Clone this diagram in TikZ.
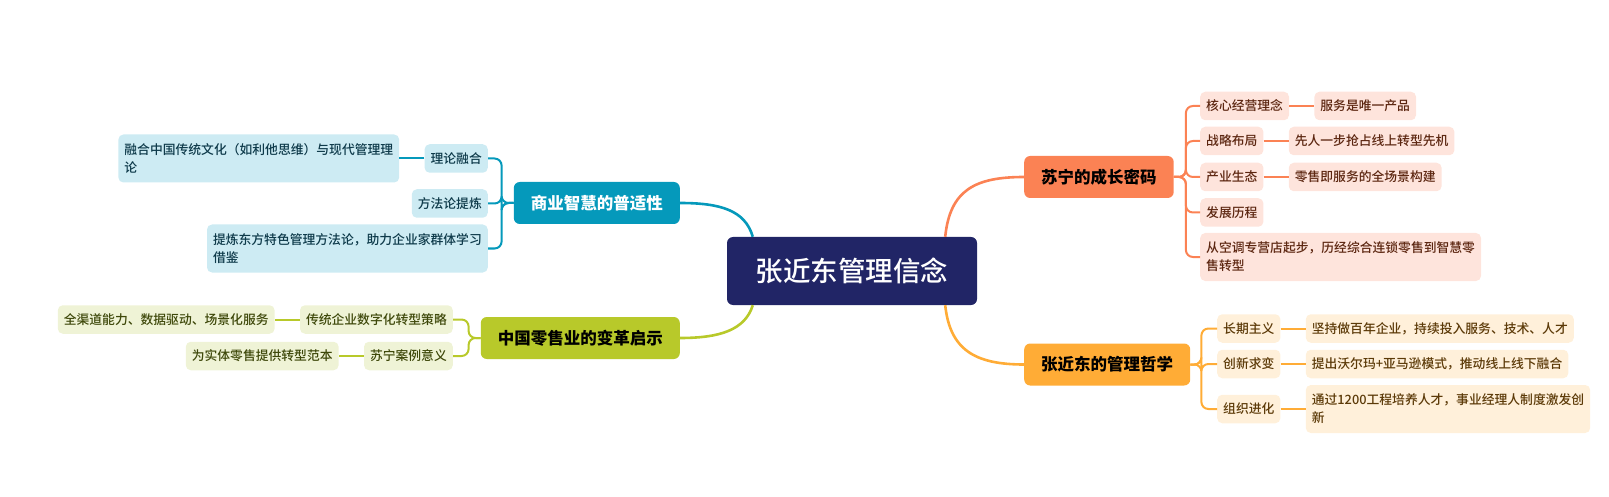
\documentclass[tikz,border=0pt]{standalone}
\usepackage{fontspec}
\setmainfont{Noto Sans CJK SC}
\newfontfamily\cjkmed{Noto Sans CJK SC Medium}
\usetikzlibrary{positioning,calc}
\definecolor{cnavy}{RGB}{33,37,102}
\definecolor{corange}{RGB}{251,130,84}
\definecolor{corangel}{RGB}{254,228,220}
\definecolor{corangetx}{RGB}{92,38,16}
\definecolor{cyellow}{RGB}{255,172,54}
\definecolor{cyellowl}{RGB}{255,240,218}
\definecolor{cyellowtx}{RGB}{92,58,8}
\definecolor{cblue}{RGB}{5,153,187}
\definecolor{cbluel}{RGB}{205,235,243}
\definecolor{cbluetx}{RGB}{14,58,74}
\definecolor{cgreen}{RGB}{184,201,42}
\definecolor{cgreenl}{RGB}{239,243,214}
\definecolor{cgreentx}{RGB}{62,72,10}
\begin{document}
\begin{tikzpicture}[x=1pt,y=-1pt,
  centerbox/.style={fill=cnavy, text=white, rounded corners=6pt, minimum width=250pt, minimum height=68pt, inner sep=0pt, font=\cjkmed\fontsize{27.5}{32}\selectfont},
  mainbox/.style={rounded corners=6pt, inner xsep=17pt, inner ysep=0pt, minimum height=42pt, font=\fontsize{16.5}{20}\selectfont\bfseries},
  childbox/.style={rounded corners=5pt, inner xsep=6pt, inner ysep=0pt, minimum height=28.5pt, font=\cjkmed\fontsize{12.8}{18}\selectfont, align=left},
  twoline/.style={minimum height=48pt},
  ochild/.style={childbox, fill=corangel, text=corangetx},
  ychild/.style={childbox, fill=cyellowl, text=cyellowtx},
  bchild/.style={childbox, fill=cbluel, text=cbluetx},
  gchild/.style={childbox, fill=cgreenl, text=cgreentx},
  mainlink/.style={line width=2.6pt},
  sublink/.style={line width=2pt, rounded corners=7pt},
]
\useasboundingbox (0,0) rectangle (1609,497);

% center
\node[centerbox] (C) at (852,271) {张近东管理信念};

% main branches
\node[mainbox, fill=corange, text=black, anchor=west] (O) at (1024,177) {苏宁的成长密码};
\node[mainbox, fill=cyellow, text=black, anchor=west] (Y) at (1024,364.5) {张近东的管理哲学};
\node[mainbox, fill=cblue, text=white, anchor=east] (B) at (680,203) {商业智慧的普适性};
\node[mainbox, fill=cgreen, text=black, anchor=east] (G) at (680,338) {中国零售业的变革启示};

% main curves
\draw[mainlink, corange] ([xshift=-32pt]C.north east) .. controls (950,190) and (975,177) .. (O.west);
\draw[mainlink, cyellow] ([xshift=-32pt]C.south east) .. controls (950,350) and (975,364.5) .. (Y.west);
\draw[mainlink, cblue] ([xshift=26pt]C.north west) .. controls (745,210) and (720,203) .. (B.east);
\draw[mainlink, cgreen] ([xshift=26pt]C.south west) .. controls (745,330) and (720,338) .. (G.east);

% orange children
\node[ochild, anchor=west] (o1) at (1200,106) {核心经营理念};
\node[ochild, anchor=west] (o2) at (1200,141) {战略布局};
\node[ochild, anchor=west] (o3) at (1200,177) {产业生态};
\node[ochild, anchor=west] (o4) at (1200,212.5) {发展历程};
\node[ochild, twoline, anchor=west] (o5) at (1200,257) {从空调专营店起步，历经综合连锁零售到智慧零\\售转型};
\node[ochild, right=25pt of o1] (o1l) {服务是唯一产品};
\node[ochild, right=25pt of o2] (o2l) {先人一步抢占线上转型先机};
\node[ochild, right=25pt of o3] (o3l) {零售即服务的全场景构建};
\foreach \c in {o1,o2,o3,o4,o5}
  \draw[sublink, corange] (O.east) -- ++(12,0) |- (\c.west);
\foreach \c in {o1,o2,o3}
  \draw[sublink, corange] (\c.east) -- (\c l.west);

% yellow children
\node[ychild, anchor=west] (y1) at (1217,328.5) {长期主义};
\node[ychild, anchor=west] (y2) at (1217,364) {创新求变};
\node[ychild, anchor=west] (y3) at (1217,409) {组织进化};
\node[ychild, right=25pt of y1] (y1l) {坚持做百年企业，持续投入服务、技术、人才};
\node[ychild, right=25pt of y2] (y2l) {提出沃尔玛+亚马逊模式，推动线上线下融合};
\node[ychild, twoline, right=25pt of y3] (y3l) {通过1200工程培养人才，事业经理人制度激发创\\新};
\foreach \c in {y1,y2,y3}
  \draw[sublink, cyellow] (Y.east) -- ++(11,0) |- (\c.west);
\foreach \c in {y1,y2,y3}
  \draw[sublink, cyellow] (\c.east) -- (\c l.west);

% blue children
\node[bchild, anchor=east] (b1) at (488,158.5) {理论融合};
\node[bchild, anchor=east] (b2) at (488,203.5) {方法论提炼};
\node[bchild, twoline, anchor=east] (b3) at (488,248.5) {提炼东方特色管理方法论，助力企业家群体学习\\借鉴};
\node[bchild, twoline, left=25pt of b1] (b1l) {融合中国传统文化（如利他思维）与现代管理理\\论};
\foreach \c in {b1,b2,b3}
  \draw[sublink, cblue] (B.west) -- ++(-12,0) |- (\c.east);
\draw[sublink, cblue] (b1.west) -- (b1l.east);

% green children
\node[gchild, anchor=east] (g1) at (453,319.5) {传统企业数字化转型策略};
\node[gchild, anchor=east] (g2) at (453,356) {苏宁案例意义};
\node[gchild, left=25pt of g1] (g1l) {全渠道能力、数据驱动、场景化服务};
\node[gchild, left=25pt of g2] (g2l) {为实体零售提供转型范本};
\foreach \c in {g1,g2}
  \draw[sublink, cgreen] (G.west) -- ++(-12,0) |- (\c.east);
\foreach \c in {g1,g2}
  \draw[sublink, cgreen] (\c.west) -- (\c l.east);
\end{tikzpicture}
\end{document}
